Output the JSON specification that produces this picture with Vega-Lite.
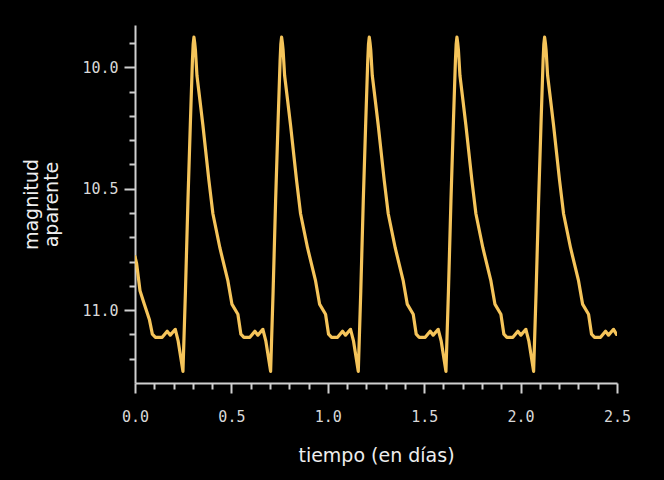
{
  "$schema": "https://vega.github.io/schema/vega-lite/v6.json",
  "width": 482,
  "height": 358,
  "autosize": {"type": "none"},
  "padding": {"left": 135, "top": 25, "right": 47, "bottom": 97},
  "background": "#000000",
  "config": {"view": {"stroke": null}},
  "data": {"values": [
    {"t": 0.000, "mag": 10.780},
    {"t": 0.008, "mag": 10.806},
    {"t": 0.026, "mag": 10.920},
    {"t": 0.048, "mag": 10.975},
    {"t": 0.075, "mag": 11.040},
    {"t": 0.090, "mag": 11.099},
    {"t": 0.106, "mag": 11.112},
    {"t": 0.141, "mag": 11.112},
    {"t": 0.167, "mag": 11.087},
    {"t": 0.183, "mag": 11.103},
    {"t": 0.209, "mag": 11.079},
    {"t": 0.224, "mag": 11.128},
    {"t": 0.2487, "mag": 11.252},
    {"t": 0.2617, "mag": 10.921},
    {"t": 0.2746, "mag": 10.550},
    {"t": 0.2876, "mag": 10.219},
    {"t": 0.2979, "mag": 9.971},
    {"t": 0.3017, "mag": 9.905},
    {"t": 0.3057, "mag": 9.876},
    {"t": 0.3097, "mag": 9.900},
    {"t": 0.3135, "mag": 9.930},
    {"t": 0.3212, "mag": 10.033},
    {"t": 0.3368, "mag": 10.136},
    {"t": 0.3523, "mag": 10.240},
    {"t": 0.3834, "mag": 10.467},
    {"t": 0.4041, "mag": 10.603},
    {"t": 0.4404, "mag": 10.744},
    {"t": 0.4819, "mag": 10.880},
    {"t": 0.5026, "mag": 10.975},
    {"t": 0.5337, "mag": 11.017},
    {"t": 0.5492, "mag": 11.099},
    {"t": 0.5648, "mag": 11.112},
    {"t": 0.5959, "mag": 11.112},
    {"t": 0.6218, "mag": 11.087},
    {"t": 0.6373, "mag": 11.103},
    {"t": 0.6632, "mag": 11.079},
    {"t": 0.6788, "mag": 11.128},
    {"t": 0.7034, "mag": 11.252},
    {"t": 0.7164, "mag": 10.921},
    {"t": 0.7293, "mag": 10.550},
    {"t": 0.7423, "mag": 10.219},
    {"t": 0.7526, "mag": 9.971},
    {"t": 0.7564, "mag": 9.905},
    {"t": 0.7604, "mag": 9.876},
    {"t": 0.7644, "mag": 9.900},
    {"t": 0.7682, "mag": 9.930},
    {"t": 0.7759, "mag": 10.033},
    {"t": 0.7915, "mag": 10.136},
    {"t": 0.8070, "mag": 10.240},
    {"t": 0.8381, "mag": 10.467},
    {"t": 0.8588, "mag": 10.603},
    {"t": 0.8951, "mag": 10.744},
    {"t": 0.9366, "mag": 10.880},
    {"t": 0.9573, "mag": 10.975},
    {"t": 0.9884, "mag": 11.017},
    {"t": 1.0039, "mag": 11.099},
    {"t": 1.0195, "mag": 11.112},
    {"t": 1.0506, "mag": 11.112},
    {"t": 1.0765, "mag": 11.087},
    {"t": 1.0920, "mag": 11.103},
    {"t": 1.1179, "mag": 11.079},
    {"t": 1.1335, "mag": 11.128},
    {"t": 1.1581, "mag": 11.252},
    {"t": 1.1711, "mag": 10.921},
    {"t": 1.1840, "mag": 10.550},
    {"t": 1.1970, "mag": 10.219},
    {"t": 1.2073, "mag": 9.971},
    {"t": 1.2111, "mag": 9.905},
    {"t": 1.2151, "mag": 9.876},
    {"t": 1.2191, "mag": 9.900},
    {"t": 1.2229, "mag": 9.930},
    {"t": 1.2306, "mag": 10.033},
    {"t": 1.2462, "mag": 10.136},
    {"t": 1.2617, "mag": 10.240},
    {"t": 1.2928, "mag": 10.467},
    {"t": 1.3135, "mag": 10.603},
    {"t": 1.3498, "mag": 10.744},
    {"t": 1.3913, "mag": 10.880},
    {"t": 1.4120, "mag": 10.975},
    {"t": 1.4431, "mag": 11.017},
    {"t": 1.4586, "mag": 11.099},
    {"t": 1.4742, "mag": 11.112},
    {"t": 1.5053, "mag": 11.112},
    {"t": 1.5312, "mag": 11.087},
    {"t": 1.5467, "mag": 11.103},
    {"t": 1.5726, "mag": 11.079},
    {"t": 1.5882, "mag": 11.128},
    {"t": 1.6128, "mag": 11.252},
    {"t": 1.6258, "mag": 10.921},
    {"t": 1.6387, "mag": 10.550},
    {"t": 1.6517, "mag": 10.219},
    {"t": 1.6620, "mag": 9.971},
    {"t": 1.6658, "mag": 9.905},
    {"t": 1.6698, "mag": 9.876},
    {"t": 1.6738, "mag": 9.900},
    {"t": 1.6776, "mag": 9.930},
    {"t": 1.6853, "mag": 10.033},
    {"t": 1.7009, "mag": 10.136},
    {"t": 1.7164, "mag": 10.240},
    {"t": 1.7475, "mag": 10.467},
    {"t": 1.7682, "mag": 10.603},
    {"t": 1.8045, "mag": 10.744},
    {"t": 1.8460, "mag": 10.880},
    {"t": 1.8667, "mag": 10.975},
    {"t": 1.8978, "mag": 11.017},
    {"t": 1.9133, "mag": 11.099},
    {"t": 1.9289, "mag": 11.112},
    {"t": 1.9600, "mag": 11.112},
    {"t": 1.9859, "mag": 11.087},
    {"t": 2.0014, "mag": 11.103},
    {"t": 2.0273, "mag": 11.079},
    {"t": 2.0429, "mag": 11.128},
    {"t": 2.0675, "mag": 11.252},
    {"t": 2.0805, "mag": 10.921},
    {"t": 2.0934, "mag": 10.550},
    {"t": 2.1064, "mag": 10.219},
    {"t": 2.1167, "mag": 9.971},
    {"t": 2.1205, "mag": 9.905},
    {"t": 2.1245, "mag": 9.876},
    {"t": 2.1285, "mag": 9.900},
    {"t": 2.1323, "mag": 9.930},
    {"t": 2.1400, "mag": 10.033},
    {"t": 2.1556, "mag": 10.136},
    {"t": 2.1711, "mag": 10.240},
    {"t": 2.2022, "mag": 10.467},
    {"t": 2.2229, "mag": 10.603},
    {"t": 2.2592, "mag": 10.744},
    {"t": 2.3007, "mag": 10.880},
    {"t": 2.3214, "mag": 10.975},
    {"t": 2.3525, "mag": 11.017},
    {"t": 2.3680, "mag": 11.099},
    {"t": 2.3836, "mag": 11.112},
    {"t": 2.4147, "mag": 11.112},
    {"t": 2.4406, "mag": 11.087},
    {"t": 2.4561, "mag": 11.103},
    {"t": 2.4820, "mag": 11.079},
    {"t": 2.4976, "mag": 11.100}
  ]},
  "mark": {"type": "line", "color": "#F5C45A", "strokeWidth": 3.2, "strokeJoin": "round", "strokeCap": "round", "clip": true},
  "encoding": {
    "x": {
      "field": "t",
      "type": "quantitative",
      "scale": {"domain": [0, 2.5], "nice": false, "zero": false},
      "axis": {
        "title": "tiempo (en días)",
        "values": [0, 0.1, 0.2, 0.3, 0.4, 0.5, 0.6, 0.7, 0.8, 0.9, 1.0, 1.1, 1.2, 1.3, 1.4, 1.5, 1.6, 1.7, 1.8, 1.9, 2.0, 2.1, 2.2, 2.3, 2.4, 2.5],
        "labelExpr": "abs(datum.value*2 - round(datum.value*2)) < 0.001 ? format(datum.value, '.1f') : ''",
        "tickSize": {"condition": {"test": "abs(datum.value*2 - round(datum.value*2)) < 0.001", "value": 10}, "value": 6},
        "grid": false,
        "domainColor": "#d0d0d0",
        "domainWidth": 2,
        "tickColor": "#d0d0d0",
        "tickWidth": 2,
        "labelColor": "#d8d8d8",
        "labelFont": "DejaVu Sans Mono",
        "labelFontSize": 15,
        "labelPadding": 16,
        "labelFlush": false,
        "labelOverlap": false,
        "titleColor": "#eeeeee",
        "titleFont": "DejaVu Sans",
        "titleFontSize": 19,
        "titleFontWeight": "normal",
        "titlePadding": 22
      }
    },
    "y": {
      "field": "mag",
      "type": "quantitative",
      "scale": {"domain": [9.826, 11.30], "reverse": true, "nice": false, "zero": false},
      "axis": {
        "title": ["magnitud", "aparente"],
        "values": [9.9, 10.0, 10.1, 10.2, 10.3, 10.4, 10.5, 10.6, 10.7, 10.8, 10.9, 11.0, 11.1, 11.2],
        "labelExpr": "abs(datum.value*2 - round(datum.value*2)) < 0.001 ? format(datum.value, '.1f') : ''",
        "tickSize": {"condition": {"test": "abs(datum.value*2 - round(datum.value*2)) < 0.001", "value": 11}, "value": 6},
        "grid": false,
        "domainColor": "#d0d0d0",
        "domainWidth": 2,
        "tickColor": "#d0d0d0",
        "tickWidth": 2,
        "labelColor": "#d8d8d8",
        "labelFont": "DejaVu Sans Mono",
        "labelFontSize": 15,
        "labelPadding": 6,
        "labelOverlap": false,
        "titleColor": "#eeeeee",
        "titleFont": "DejaVu Sans",
        "titleFontSize": 19,
        "titleFontWeight": "normal",
        "titlePadding": 20,
        "titleLineHeight": 20
      }
    }
  }
}
